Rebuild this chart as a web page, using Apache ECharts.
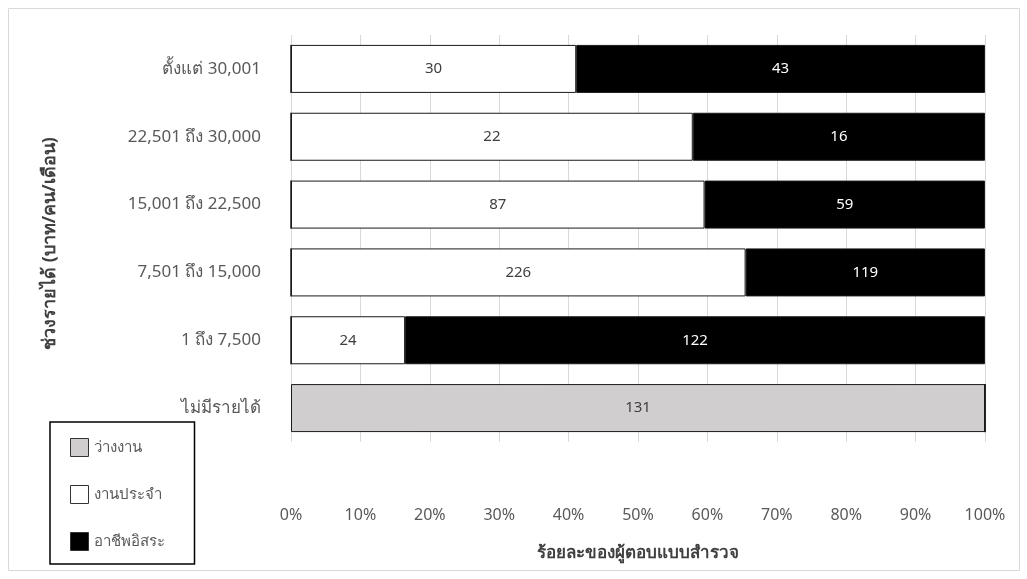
<!DOCTYPE html>
<html>
<head>
<meta charset="utf-8">
<script src="https://cdn.jsdelivr.net/npm/echarts@6/dist/echarts.min.js"></script>
<style>
html,body{margin:0;padding:0;background:#fff;}
#c{width:1027px;height:579px;}
</style>
</head>
<body>
<div id="c"></div>
<script>
const categories = ['ตั้งแต่ 30,001', '22,501 ถึง 30,000', '15,001 ถึง 22,500', '7,501 ถึง 15,000', '1 ถึง 7,500', 'ไม่มีรายได้'];
const seriesNames = ['ว่างงาน', 'งานประจำ', 'อาชีพอิสระ'];
const unemployed = [0, 0, 0, 0, 0, 131];
const regular = [30, 22, 87, 226, 24, 0];
const freelance = [43, 16, 59, 119, 122, 0];
const xTickLabels = ['0%', '10%', '20%', '30%', '40%', '50%', '60%', '70%', '80%', '90%', '100%'];

const totals = categories.map((_, i) => unemployed[i] + regular[i] + freelance[i]);
const pct = arr => arr.map((v, i) => ({ value: v / totals[i] * 100, count: v }));

const FONT = 'Tahoma, "Noto Sans", "DejaVu Sans", sans-serif';
const chart = echarts.init(document.getElementById('c'), null, { renderer: 'canvas' });

function mk(name, arr, color, labelColor) {
  return {
    name: name,
    type: 'bar',
    stack: 'total',
    barWidth: 48,
    data: pct(arr),
    itemStyle: { color: color, borderColor: '#1a1a1a', borderWidth: 1 },
    label: {
      show: true,
      position: 'inside',
      color: labelColor,
      fontSize: 15,
      fontFamily: FONT,
      formatter: p => p.data.count ? String(p.data.count) : ''
    },
    emphasis: { disabled: true }
  };
}

chart.setOption({
  animation: false,
  backgroundColor: '#fff',
  graphic: [{
    type: 'rect',
    shape: { x: 8.5, y: 8.5, width: 1011, height: 562 },
    style: { fill: 'none', stroke: '#d9d9d9', lineWidth: 1 },
    z: -1
  }],
  grid: { left: 291, right: 42, top: 35, bottom: 137 },
  legend: {
    orient: 'vertical',
    left: 50,
    top: 422,
    padding: [16, 30, 13, 20],
    itemGap: 28,
    itemWidth: 18,
    itemHeight: 18,
    borderColor: '#000',
    borderWidth: 1.5,
    selectedMode: false,
    data: seriesNames.map(n => ({ name: n, icon: 'rect', itemStyle: { borderColor: '#333', borderWidth: 1 } })),
    textStyle: { fontSize: 15, color: '#595959', fontFamily: FONT }
  },
  xAxis: {
    type: 'value',
    min: 0,
    max: 100,
    interval: 10,
    name: 'ร้อยละของผู้ตอบแบบสำรวจ',
    nameLocation: 'middle',
    nameGap: 103,
    nameTextStyle: { fontSize: 17, fontWeight: 'bold', color: '#404040', fontFamily: FONT },
    axisLine: { show: false },
    axisTick: { show: false },
    axisLabel: {
      margin: 65,
      fontSize: 16,
      color: '#595959',
      fontFamily: FONT,
      formatter: (v) => xTickLabels[Math.round(v / 10)]
    },
    splitLine: { show: true, lineStyle: { color: '#d9d9d9', width: 1 } }
  },
  yAxis: {
    type: 'category',
    inverse: true,
    data: categories,
    name: 'ช่วงรายได้ (บาท/คน/เดือน)',
    nameLocation: 'middle',
    nameGap: 232,
    nameRotate: 90,
    nameTextStyle: { fontSize: 18, fontWeight: 'bold', color: '#404040', fontFamily: FONT, padding: [0, 10, 0, 0] },
    axisLine: { show: false },
    axisTick: { show: false },
    axisLabel: { margin: 30, fontSize: 17, color: '#595959', fontFamily: FONT },
    splitLine: { show: false }
  },
  series: [
    mk(seriesNames[0], unemployed, '#d0cece', '#404040'),
    mk(seriesNames[1], regular, '#ffffff', '#404040'),
    mk(seriesNames[2], freelance, '#000000', '#ffffff')
  ]
});
</script>
</body>
</html>
